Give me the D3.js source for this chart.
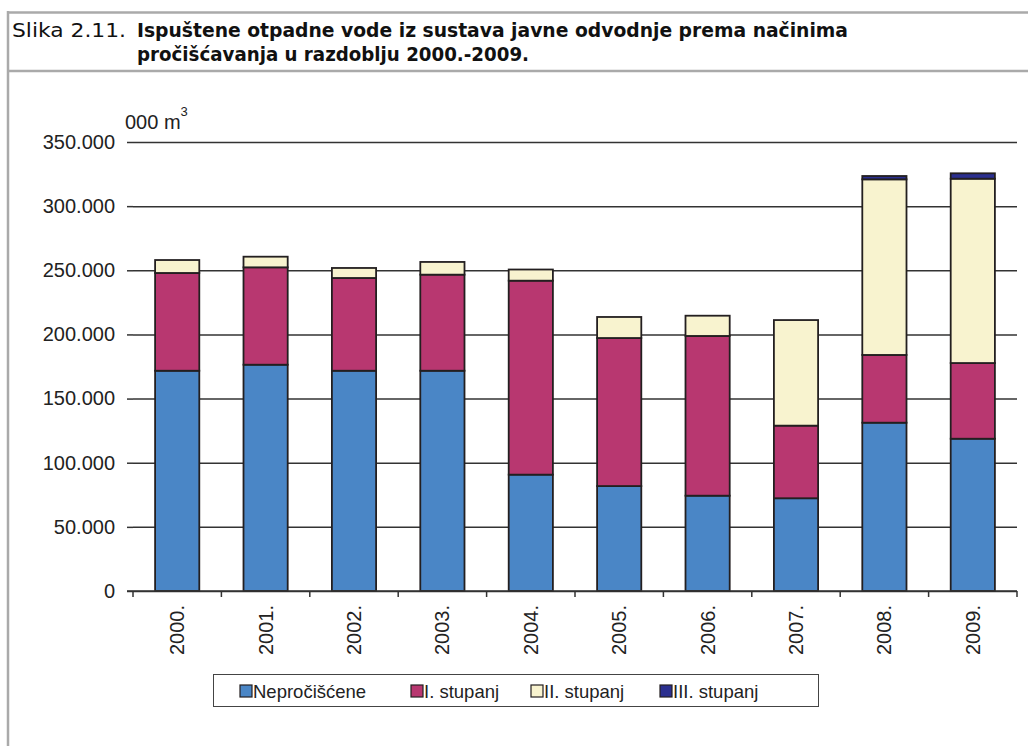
<!DOCTYPE html>
<html><head><meta charset="utf-8">
<script src="https://cdn.jsdelivr.net/npm/d3@7"></script>
<style>
body{margin:0;background:#fff;}
svg{display:block;}
</style></head>
<body>
<svg id="c" width="1028" height="746"></svg>
<script>
const years = ["2000.","2001.","2002.","2003.","2004.","2005.","2006.","2007.","2008.","2009."];
const seriesNames = ["Nepročišćene","I. stupanj","II. stupanj","III. stupanj"];
const neprocisceno = [171700,176400,171700,171700,90700,81800,74300,72300,131200,118700];
const stupanj1 = [76200,75900,72300,74900,151200,115400,124500,56600,52800,59000];
const stupanj2 = [10100,8300,7800,9900,8700,16400,15800,82300,136900,143700];
const stupanj3 = [0,0,0,0,0,0,0,0,2600,4200];
const yTicks = [0,50000,100000,150000,200000,250000,300000,350000];
const colors = ["#4a86c6","#b83770","#f8f3cf","#2b2f8f"];

const svg = d3.select("#c");
const font = "'Liberation Sans', Arial, sans-serif";

// frame
svg.append("line").attr("x1",7).attr("x2",1028).attr("y1",12.5).attr("y2",12.5).attr("stroke","#aaa").attr("stroke-width",2.5);
svg.append("line").attr("x1",7).attr("x2",1028).attr("y1",71).attr("y2",71).attr("stroke","#aaa").attr("stroke-width",2.5);
svg.append("line").attr("x1",8).attr("x2",8).attr("y1",11).attr("y2",746).attr("stroke","#aaa").attr("stroke-width",2.5);

// title
const tfont = "'Liberation Sans Narrow','DejaVu Sans Condensed', 'Liberation Sans', sans-serif";
svg.append("text").attr("x",12).attr("y",37).attr("font-family",tfont).attr("font-size",20).attr("fill","#111")
  .attr("textLength",114).attr("lengthAdjust","spacingAndGlyphs").text("Slika 2.11.");
svg.append("text").attr("x",137).attr("y",37).attr("font-family",tfont).attr("font-size",20).attr("font-weight","bold").attr("fill","#111")
  .attr("textLength",711).attr("lengthAdjust","spacingAndGlyphs").text("Ispuštene otpadne vode iz sustava javne odvodnje prema načinima");
svg.append("text").attr("x",137).attr("y",61).attr("font-family",tfont).attr("font-size",20).attr("font-weight","bold").attr("fill","#111")
  .attr("textLength",392).attr("lengthAdjust","spacingAndGlyphs").text("pročišćavanja u razdoblju 2000.-2009.");

const x = d3.scaleBand().domain(years).range([133,1017]).paddingInner(0.5).paddingOuter(0.25);
const y = d3.scaleLinear().domain([0,350000]).range([591,142]);

const loc = d3.formatLocale({decimal:",",thousands:".",grouping:[3],currency:["",""]});
const fmt = d => d===0 ? "0" : loc.format(",")(d);

// gridlines
const gy = svg.append("g").attr("transform","translate(133,0)")
  .call(d3.axisLeft(y).tickValues(yTicks).tickFormat(fmt).tickSize(6).tickSizeOuter(0).tickPadding(12));
gy.select(".domain").remove();
gy.selectAll(".tick line").attr("stroke","#333").attr("stroke-width",1.5);
gy.selectAll(".tick").append("line").attr("x1",0).attr("x2",884).attr("stroke","#333").attr("stroke-width",1.5);
gy.selectAll(".tick text").attr("font-family",font).attr("font-size",20).attr("fill","#222");

// stacked
const rows = years.map((yr,i)=>({year:yr,a:neprocisceno[i],b:stupanj1[i],c:stupanj2[i],d:stupanj3[i]}));
const stack = d3.stack().keys(["a","b","c","d"])(rows);
stack.forEach((s,si)=>{
  svg.append("g").selectAll("rect").data(s.filter(d=>d[1]-d[0]>0)).join("rect")
    .attr("x",d=>x(d.data.year)).attr("width",x.bandwidth())
    .attr("y",d=>y(d[1])).attr("height",d=>y(d[0])-y(d[1]))
    .attr("fill",colors[si]).attr("stroke","#231f20").attr("stroke-width",1.8);
});

// x axis
const xTickPos = d3.range(years.length+1).map(i=>133+i*88.4);
const gx = svg.append("g");
gx.append("line").attr("x1",127).attr("x2",1017).attr("y1",591).attr("y2",591).attr("stroke","#333").attr("stroke-width",1.5);
gx.selectAll("line.t").data(xTickPos).join("line").attr("class","t")
  .attr("x1",d=>d).attr("x2",d=>d).attr("y1",591).attr("y2",597).attr("stroke","#333").attr("stroke-width",1.5);
gx.selectAll("text").data(years).join("text")
  .attr("transform",d=>`translate(${x(d)+x.bandwidth()/2+7},605) rotate(-90)`)
  .attr("text-anchor","end").attr("font-family",font).attr("font-size",20).attr("fill","#222").text(d=>d);

// unit label
const ul = svg.append("text").attr("x",125).attr("y",129).attr("font-family",font).attr("font-size",20).attr("fill","#222");
ul.append("tspan").text("000 m");
ul.append("tspan").attr("dy",-13).attr("font-size",13).text("3");

// legend
svg.append("rect").attr("x",213.5).attr("y",674.5).attr("width",605).attr("height",32).attr("fill","none").attr("stroke","#444").attr("stroke-width",1);
const lx = [240,411,531,660];
const lg = svg.append("g").selectAll("g").data(seriesNames).join("g").attr("transform",(d,i)=>`translate(${lx[i]},685)`);
lg.append("rect").attr("width",12).attr("height",12).attr("fill",(d,i)=>colors[i]).attr("stroke","#231f20").attr("stroke-width",1.2);
lg.append("text").attr("x",13).attr("y",13).attr("font-family",font).attr("font-size",18.5).attr("fill","#222").text(d=>d);
</script>
</body></html>
